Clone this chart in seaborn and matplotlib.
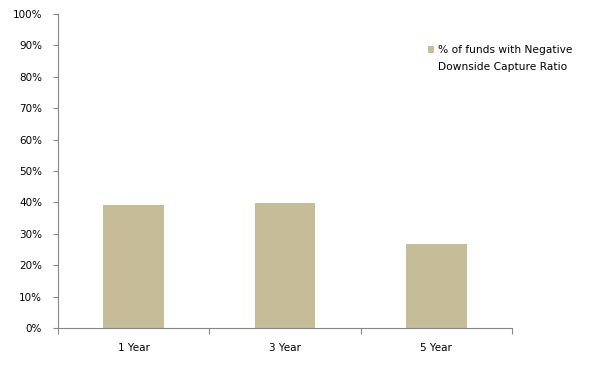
import pandas as pd
import matplotlib
matplotlib.use('Agg')
import matplotlib.pyplot as plt
from matplotlib.patches import Patch
from matplotlib.ticker import PercentFormatter, FixedLocator
import seaborn as sns

periods = ['1 Year', '3 Year', '5 Year']
pct_negative = [0.392, 0.398, 0.268]
series_label = ['% of funds with Negative', 'Downside Capture Ratio']
bar_color = '#C4BD97'

df = pd.DataFrame({'period': periods, 'value': pct_negative})

sns.set_style('white')
plt.rcParams['font.family'] = ['DejaVu Sans']

fig = plt.figure(figsize=(6.03, 3.82), dpi=100)
ax = fig.add_axes([58 / 603, 1 - 328 / 382, (512 - 58) / 603, (328 - 14) / 382])

sns.barplot(data=df, x='period', y='value', color=bar_color, width=0.4,
            saturation=1, linewidth=0, ax=ax)

ax.set_xlim(-0.5, 2.5)
ax.set_ylim(0, 1)
ax.yaxis.set_major_locator(FixedLocator([i / 10 for i in range(11)]))
ax.yaxis.set_major_formatter(PercentFormatter(1.0, decimals=0))
ax.set_xlabel('')
ax.set_ylabel('')

# category boundary ticks on x axis
ax.xaxis.set_minor_locator(FixedLocator([-0.5, 0.5, 1.5, 2.5]))
ax.tick_params(axis='x', which='major', length=0, pad=11, labelsize=7.5, colors='#000000')
ax.tick_params(axis='x', which='minor', length=4, width=0.8, color='#868686', direction='out', bottom=True)
ax.tick_params(axis='y', which='major', length=3.5, width=0.8, color='#868686', direction='out',
               left=True, labelsize=7.5, pad=8, labelcolor='#000000')

for side in ['top', 'right']:
    ax.spines[side].set_visible(False)
for side in ['left', 'bottom']:
    ax.spines[side].set_color('#868686')
    ax.spines[side].set_linewidth(0.8)

# legend: square marker on the first line, wrapped text continues below
handle = Patch(facecolor=bar_color, edgecolor='none')
leg = fig.legend([handle], [series_label[0]], loc='center left', bbox_to_anchor=(428 / 603, 1 - 50 / 382),
                 frameon=False, fontsize=7.7, handlelength=0.6, handleheight=0.6, handletextpad=0.35,
                 borderaxespad=0, borderpad=0)
leg.get_texts()[0].set_color('#000000')
fig.text(438 / 603, 1 - 67 / 382, series_label[1], fontsize=7.7, color='#000000',
         ha='left', va='center')

fig.savefig('out.png', dpi=100)
